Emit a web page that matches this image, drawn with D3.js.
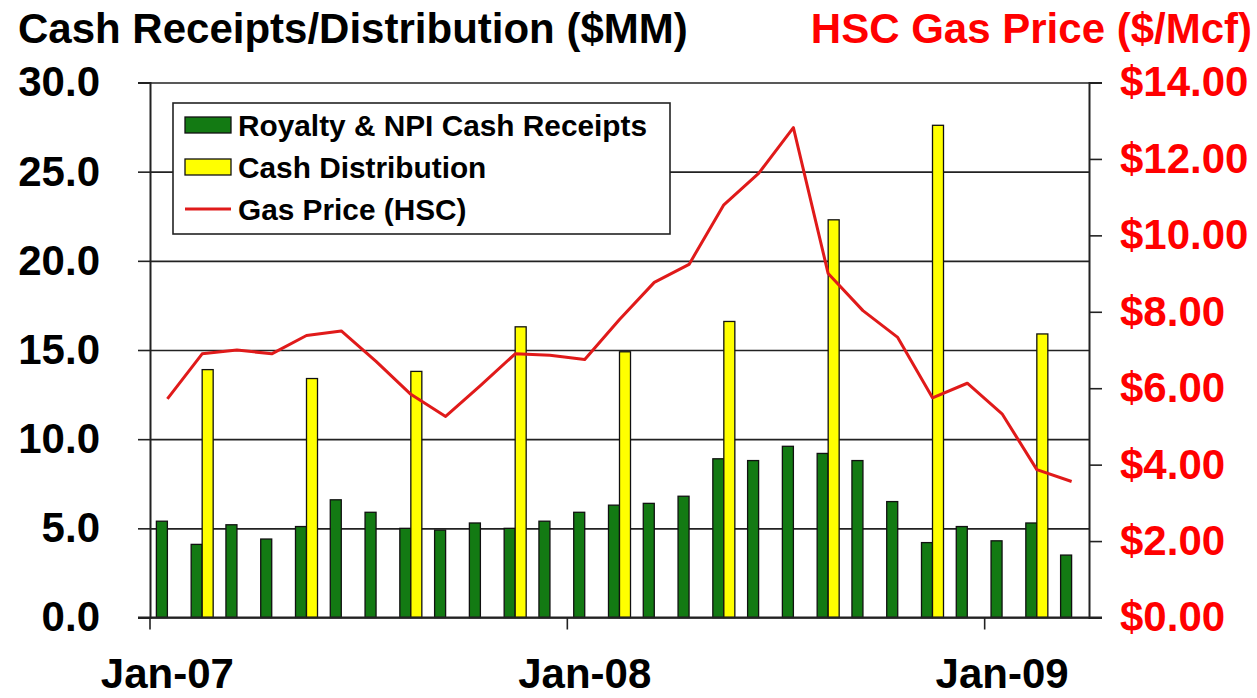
<!DOCTYPE html>
<html>
<head>
<meta charset="utf-8">
<script src="https://cdn.jsdelivr.net/npm/d3@7"></script>
<style>
  body { margin: 0; background: #fff; }
  svg text { font-family: "Liberation Sans", Arial, Helvetica, sans-serif; font-weight: bold; }
</style>
</head>
<body>
<svg width="1257" height="698"></svg>
<script>
// monthly data, Jan-07 .. Mar-09
const months = ["Jan-07","Feb-07","Mar-07","Apr-07","May-07","Jun-07","Jul-07","Aug-07","Sep-07",
  "Oct-07","Nov-07","Dec-07","Jan-08","Feb-08","Mar-08","Apr-08","May-08","Jun-08","Jul-08",
  "Aug-08","Sep-08","Oct-08","Nov-08","Dec-08","Jan-09","Feb-09","Mar-09"];
const receipts = [5.4,4.1,5.2,4.4,5.1,6.6,5.9,5.0,4.9,5.3,5.0,5.4,5.9,6.3,6.4,6.8,8.9,8.8,9.6,9.2,8.8,6.5,4.2,5.1,4.3,5.3,3.5];
const distribution = [null,13.9,null,null,13.4,null,null,13.8,null,null,16.3,null,null,14.9,null,null,16.6,null,null,22.3,null,null,27.6,null,null,15.9,null];
const gasPrice = [5.72,6.9,7.0,6.9,7.38,7.5,6.7,5.84,5.26,6.07,6.9,6.86,6.75,7.8,8.77,9.24,10.8,11.62,12.82,9.0,8.03,7.33,5.75,6.13,5.33,3.87,3.56];

const leftTicks = [0,5,10,15,20,25,30];
const rightTicks = [0,2,4,6,8,10,12,14];
const yearTicks = ["Jan-07","Jan-08","Jan-09"];

const legendItems = [
  {name: "Royalty & NPI Cash Receipts", kind: "bar", color: "#137a13"},
  {name: "Cash Distribution", kind: "bar", color: "#ffff00"},
  {name: "Gas Price (HSC)", kind: "line", color: "#e01a1a"}
];

// ////////////////////////////////////////////

const plotL = 150, plotR = 1089, plotT = 82.5, plotB = 617.5;
const svg = d3.select("svg");

const x = d3.scaleBand().domain(months).range([plotL, plotR]).padding(0);
const xs = d3.scaleBand().domain(["r","d"]).range([0, x.bandwidth()]).paddingInner(0).paddingOuter(0.58);
const y = d3.scaleLinear().domain([0, 30]).range([plotB, plotT]);
const y2 = d3.scaleLinear().domain([0, 14]).range([plotB, plotT]);

// gridlines
svg.append("g")
   .attr("transform", "translate(" + plotL + ",0)")
   .call(d3.axisLeft(y).tickValues(leftTicks).tickSize(-(plotR - plotL)).tickFormat(""))
   .call(g => g.select(".domain").remove())
   .selectAll("line").attr("stroke", "#222").attr("stroke-width", 1.6);

// bars
svg.append("g").selectAll("rect")
   .data(receipts)
   .enter().append("rect")
   .attr("x", (d, i) => x(months[i]) + xs("r"))
   .attr("y", d => y(d))
   .attr("width", xs.bandwidth())
   .attr("height", d => plotB - y(d))
   .attr("fill", legendItems[0].color)
   .attr("stroke", "#111").attr("stroke-width", 1.3);

svg.append("g").selectAll("rect")
   .data(distribution.map((v, i) => ({v, i})).filter(d => d.v !== null))
   .enter().append("rect")
   .attr("x", d => x(months[d.i]) + xs("d"))
   .attr("y", d => y(d.v))
   .attr("width", xs.bandwidth())
   .attr("height", d => plotB - y(d.v))
   .attr("fill", legendItems[1].color)
   .attr("stroke", "#111").attr("stroke-width", 1.3);

// gas price line
const line = d3.line()
   .x((d, i) => x(months[i]) + x.bandwidth() / 2)
   .y(d => y2(d));

svg.append("path")
   .datum(gasPrice)
   .attr("d", line)
   .attr("fill", "none")
   .attr("stroke", legendItems[2].color)
   .attr("stroke-width", 3)
   .attr("stroke-linejoin", "round");

// left axis
const axL = svg.append("g")
   .attr("transform", "translate(" + plotL + ",0)")
   .call(d3.axisLeft(y).tickValues(leftTicks).tickSize(12).tickPadding(38).tickFormat(d3.format(".1f")));
axL.select(".domain").attr("stroke", "#222").attr("stroke-width", 2);
axL.selectAll("line").attr("stroke", "#222").attr("stroke-width", 1.6);
axL.selectAll("text").attr("font-size", 42).attr("fill", "#000");

// right axis
const axR = svg.append("g")
   .attr("transform", "translate(" + plotR + ",0)")
   .call(d3.axisRight(y2).tickValues(rightTicks).tickSize(13).tickPadding(18).tickFormat(d => "$" + d.toFixed(2)));
axR.select(".domain").attr("stroke", "#222").attr("stroke-width", 2);
axR.selectAll("line").attr("stroke", "#222").attr("stroke-width", 1.6);
axR.selectAll("text").attr("font-size", 42).attr("fill", "#ff0000");

// bottom axis: year ticks at band start, label at band centre
const axB = svg.append("g")
   .attr("transform", "translate(0," + plotB + ")")
   .call(d3.axisBottom(x).tickValues(yearTicks).tickSize(12).tickSizeOuter(0));
axB.select(".domain").attr("stroke", "#222").attr("stroke-width", 2)
   .attr("d", "M" + (plotL - 12) + ",0H" + (plotR + 13));
axB.selectAll(".tick line")
   .attr("transform", "translate(" + (-x.bandwidth() / 2) + ",0)")
   .attr("stroke", "#222").attr("stroke-width", 1.6);
axB.selectAll(".tick text")
   .attr("y", 41)
   .attr("font-size", 42).attr("fill", "#000");

// axis titles
svg.append("text")
   .attr("x", 18).attr("y", 43)
   .attr("font-size", 42)
   .text("Cash Receipts/Distribution ($MM)");

svg.append("text")
   .attr("x", 1252).attr("y", 43)
   .attr("text-anchor", "end")
   .attr("font-size", 42)
   .attr("fill", "#ff0000")
   .text("HSC Gas Price ($/Mcf)");

// legend
const lg = svg.append("g").attr("transform", "translate(173,103)");
lg.append("rect")
   .attr("width", 497).attr("height", 131)
   .attr("fill", "#fff").attr("stroke", "#222").attr("stroke-width", 1.6);

const item = lg.selectAll(".item")
   .data(legendItems)
   .enter().append("g")
   .attr("class", "item")
   .attr("transform", (d, i) => "translate(12," + (22 + i * 42) + ")");

item.filter(d => d.kind === "bar").append("rect")
   .attr("x", 0).attr("y", -8)
   .attr("width", 46).attr("height", 16)
   .attr("fill", d => d.color)
   .attr("stroke", "#111").attr("stroke-width", 1.3);

item.filter(d => d.kind === "line").append("line")
   .attr("x1", 0).attr("x2", 46)
   .attr("stroke", d => d.color).attr("stroke-width", 3);

item.append("text")
   .attr("x", 53).attr("dy", "0.36em")
   .attr("font-size", 29.8)
   .text(d => d.name);
</script>
</body>
</html>
